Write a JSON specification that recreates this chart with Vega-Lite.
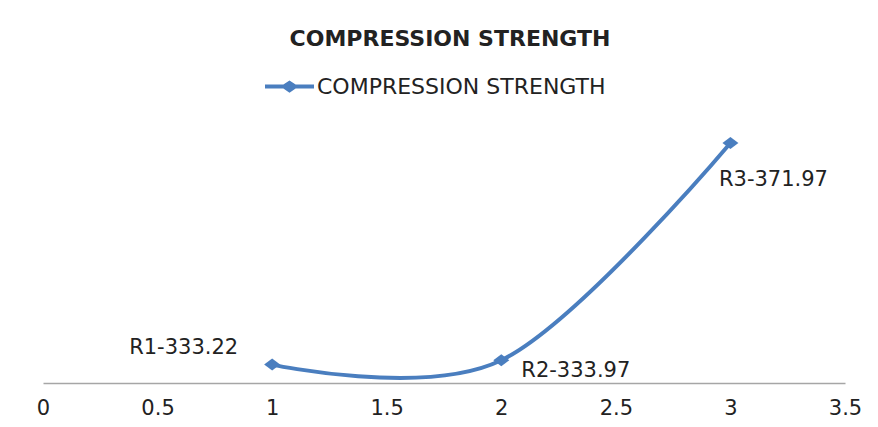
{
  "$schema": "https://vega.github.io/schema/vega-lite/v6.json",
  "autosize": {"type": "none"},
  "width": 802,
  "height": 286,
  "padding": {"left": 43, "top": 97, "right": 33, "bottom": 44},
  "background": "white",
  "title": {
    "text": "COMPRESSION STRENGTH",
    "font": "DejaVu Sans",
    "fontSize": 22,
    "fontWeight": "bold",
    "color": "#222222",
    "anchor": "middle",
    "frame": "group",
    "baseline": "alphabetic",
    "offset": -6,
    "dx": 6
  },
  "data": {
    "values": [
      {"run": "R1", "x": 1, "strength": 333.22, "series": "COMPRESSION STRENGTH"},
      {"run": "R2", "x": 2, "strength": 333.97, "series": "COMPRESSION STRENGTH"},
      {"run": "R3", "x": 3, "strength": 371.97, "series": "COMPRESSION STRENGTH"}
    ]
  },
  "transform": [
    {"calculate": "datum.run + '-' + format(datum.strength, '.2f')", "as": "label"}
  ],
  "encoding": {
    "x": {
      "field": "x",
      "type": "quantitative",
      "scale": {"domain": [0, 3.5], "nice": false, "zero": false},
      "axis": {
        "title": null,
        "values": [0, 0.5, 1, 1.5, 2, 2.5, 3, 3.5],
        "format": "~g",
        "grid": false,
        "ticks": false,
        "domainColor": "#a6a6a6",
        "domainWidth": 1.5,
        "labelFont": "DejaVu Sans",
        "labelFontSize": 21,
        "labelColor": "#222222",
        "labelPadding": 14,
        "labelOverlap": false,
        "labelFlush": false
      }
    },
    "y": {
      "field": "strength",
      "type": "quantitative",
      "scale": {"domain": [330, 380], "nice": false, "zero": false},
      "axis": null
    }
  },
  "layer": [
    {
      "mark": {"type": "line", "interpolate": "cardinal", "color": "#4a7ebf", "strokeWidth": 4}
    },
    {
      "mark": {
        "type": "point",
        "filled": true,
        "opacity": 1,
        "size": 256,
        "shape": "M-1,0L0,-0.75L1,0L0,0.75Z"
      },
      "encoding": {
        "color": {
          "field": "series",
          "type": "nominal",
          "scale": {"range": ["#4a7ebf"]},
          "legend": {
            "title": null,
            "orient": "none",
            "legendX": 222,
            "legendY": -35,
            "padding": 0,
            "symbolType": "M-1,-0.08L-0.25,-0.08L0,-0.25L0.25,-0.08L1,-0.08L1,0.08L0.25,0.08L0,0.25L-0.25,0.08L-1,0.08Z",
            "symbolSize": 2401,
            "symbolFillColor": "#4a7ebf",
            "symbolStrokeWidth": 0,
            "symbolOpacity": 1,
            "labelOffset": 3,
            "labelFont": "DejaVu Sans",
            "labelFontSize": 22,
            "labelColor": "#222222",
            "labelLimit": 0
          }
        }
      }
    },
    {
      "transform": [{"filter": "datum.run == 'R1'"}],
      "mark": {"type": "text", "align": "right", "baseline": "middle", "dx": -34, "dy": -17, "font": "DejaVu Sans", "fontSize": 21, "color": "#222222"},
      "encoding": {"text": {"field": "label"}}
    },
    {
      "transform": [{"filter": "datum.run == 'R2'"}],
      "mark": {"type": "text", "align": "left", "baseline": "middle", "dx": 20, "dy": 11, "font": "DejaVu Sans", "fontSize": 21, "color": "#222222"},
      "encoding": {"text": {"field": "label"}}
    },
    {
      "transform": [{"filter": "datum.run == 'R3'"}],
      "mark": {"type": "text", "align": "center", "baseline": "middle", "dx": 43, "dy": 37, "font": "DejaVu Sans", "fontSize": 21, "color": "#222222"},
      "encoding": {"text": {"field": "label"}}
    }
  ],
  "config": {
    "view": {"stroke": null}
  }
}
